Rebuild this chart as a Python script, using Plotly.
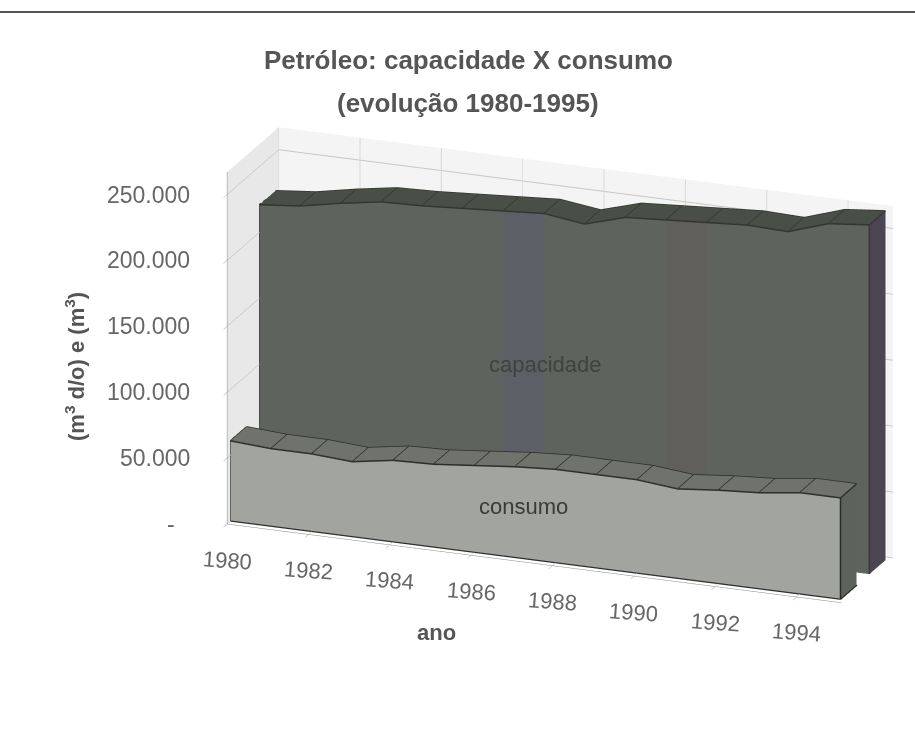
import math
import plotly.graph_objects as go

anos = list(range(1980, 1996))
capacidade = [221000, 224000, 230000, 235000, 236000, 238000, 240000, 242000,
              238000, 247000, 249000, 251000, 253000, 252000, 262000, 265000]
consumo = [61000, 59000, 59000, 57000, 62000, 63000, 66000, 69000,
           71000, 71000, 71000, 68000, 71000, 73000, 77000, 77000]
z_ticks = [0, 50000, 100000, 150000, 200000, 250000]
z_labels = ["-", "50.000", "100.000", "150.000", "200.000", "250.000"]
x_ticks = list(range(1980, 1996, 2))
x_labels = [str(a) for a in x_ticks]


def solid(xs, vals, y0, y1, c_front, c_top, c_side, bands=None):
    """Front, top and right-end faces of one 3D area series."""
    vx, vy, vz, i, j, k, fc = [], [], [], [], [], [], []

    def quad(p, col):
        n = len(vx)
        for a, b, c in p:
            vx.append(a); vy.append(b); vz.append(c)
        i.extend([n, n]); j.extend([n + 1, n + 2]); k.extend([n + 2, n + 3])
        fc.extend([col, col])

    for s in range(len(xs) - 1):
        a, b = xs[s], xs[s + 1]
        va, vb = vals[s], vals[s + 1]
        col = (bands or {}).get(a, c_front)
        quad([(a, y0, 0), (b, y0, 0), (b, y0, vb), (a, y0, va)], col)
        quad([(a, y0, va), (b, y0, vb), (b, y1, vb), (a, y1, va)], c_top)
    e, ve = xs[-1], vals[-1]
    quad([(e, y0, 0), (e, y1, 0), (e, y1, ve), (e, y0, ve)], c_side)
    return go.Mesh3d(x=vx, y=vy, z=vz, i=i, j=j, k=k, facecolor=fc, flatshading=True,
                     lighting=dict(ambient=1, diffuse=0, specular=0, fresnel=0),
                     hoverinfo="skip", showscale=False)


def edges(xs, vals, y0, y1, color, width, dividers):
    ex, ey, ez = [], [], []

    def seg(pts):
        for p in pts:
            ex.append(p[0]); ey.append(p[1]); ez.append(p[2])
        ex.append(None); ey.append(None); ez.append(None)

    seg([(a, y0, v) for a, v in zip(xs, vals)])
    seg([(a, y1, v) for a, v in zip(xs, vals)])
    seg([(xs[0], y0, vals[0]), (xs[0], y1, vals[0])])
    seg([(xs[-1], y0, vals[-1]), (xs[-1], y1, vals[-1])])
    seg([(xs[-1], y0, 0), (xs[-1], y0, vals[-1])])
    seg([(xs[0], y0, 0), (xs[0], y0, vals[0])])
    if dividers:
        for a, v in zip(xs[1:-1], vals[1:-1]):
            seg([(a, y0, v), (a, y1, v)])
    return go.Scatter3d(x=ex, y=ey, z=ez, mode="lines", line=dict(color=color, width=width),
                        hoverinfo="skip", showlegend=False)


Y_CONS = (0.0, 1.0)
Y_CAP = (1.8, 2.8)

fig = go.Figure()
fig.add_trace(solid(anos, capacidade, *Y_CAP, "#5e635d", "#494e47", "#4b4650",
                    bands={1986: "#5c6066", 1990: "#615f5c"}))
fig.add_trace(edges(anos, capacidade, *Y_CAP, "#33362f", 3, True))
fig.add_trace(solid(anos, consumo, *Y_CONS, "#a2a4a0", "#6f736c", "#5d625c"))
fig.add_trace(edges(anos, consumo, *Y_CONS, "#2b2d29", 3, True))
# dark foot of the front block
fig.add_trace(go.Scatter3d(x=[anos[0], anos[-1], anos[-1]], y=[Y_CONS[0], Y_CONS[0], Y_CONS[1]],
                           z=[600, 600, 600], mode="lines",
                           line=dict(color="#2f302d", width=5), hoverinfo="skip", showlegend=False))

# view geometry
a = math.radians(21)
e = math.radians(19.5)
D = 3.05
d = (math.cos(e) * math.sin(a), -math.cos(e) * math.cos(a), math.sin(e))
shift = 0.277
c = (-shift * math.cos(a), -shift * math.sin(a), -0.0143)
eye = tuple(ci + D * di for ci, di in zip(c, d))

FONT = "Liberation Sans, Arial, sans-serif"
x_tick_font = dict(family=FONT, size=22, color="#666666")
z_tick_font = dict(family=FONT, size=23, color="#666666")

scene_notes = [
    dict(x=1987.04, y=1.8, z=128000, text="capacidade", showarrow=False,
         font=dict(family=FONT, size=22, color="#3f423d")),
    dict(x=1987.2, y=0, z=40000, text="consumo", showarrow=False,
         font=dict(family=FONT, size=22, color="#3a3a3a")),
]
for v, lab in zip(x_ticks, x_labels):
    scene_notes.append(dict(x=v, y=-0.2, z=0, text=lab, showarrow=False, yshift=-36,
                            textangle=4, font=x_tick_font))
for v, lab in zip(z_ticks, z_labels):
    scene_notes.append(dict(x=1980, y=-0.2, z=v, text=lab, showarrow=False, xanchor="right",
                            xshift=-35 if v else -50, font=z_tick_font))

fig.update_layout(
    width=915, height=740,
    margin=dict(l=0, r=0, t=0, b=0),
    paper_bgcolor="#ffffff",
    showlegend=False,
    font=dict(family=FONT, color="#555555"),
    title=dict(text="<b>Petróleo: capacidade X consumo</b>",
               x=0.512, xanchor="center", y=1 - 60 / 740, yanchor="middle",
               font=dict(size=26, color="#555555")),
    scene=dict(
        domain=dict(x=[0, 1], y=[0, 1]),
        aspectmode="manual",
        aspectratio=dict(x=1.778, y=0.3885, z=1.009),
        camera=dict(projection=dict(type="orthographic"),
                    up=dict(x=0, y=0, z=1),
                    eye=dict(x=eye[0], y=eye[1], z=eye[2]),
                    center=dict(x=c[0], y=c[1], z=c[2])),
        xaxis=dict(title=dict(text=""), range=[1980, 1995.1], tickvals=x_ticks, showticklabels=False,
                   showgrid=True, gridcolor="#d8d8d8",
                   showbackground=True, backgroundcolor="#e8e8e8",
                   showline=True, linecolor="#888888", ticks="outside", tickcolor="#999999",
                   zeroline=False, showspikes=False),
        yaxis=dict(title=dict(text=""), range=[-0.2, 3.0], showticklabels=False, ticks="",
                   showgrid=False, showbackground=True, backgroundcolor="#f4f4f4",
                   showline=False, zeroline=False, showspikes=False),
        zaxis=dict(title=dict(text=""), range=[0, 267000], tickvals=z_ticks, showticklabels=False,
                   showgrid=True, gridcolor="#c8c8c8",
                   showbackground=False,
                   showline=True, linecolor="#888888", ticks="outside", tickcolor="#999999",
                   zeroline=False, showspikes=False),
        annotations=scene_notes,
    ),
    annotations=[
        dict(text="<b>(evolução 1980-1995)</b>", x=468 / 915, y=1 - 103 / 740, xref="paper", yref="paper",
             xanchor="center", yanchor="middle", showarrow=False, font=dict(size=26, color="#555555")),
        dict(text="<b>ano</b>", x=436 / 915, y=1 - 632 / 740, xref="paper", yref="paper", showarrow=False,
             xanchor="center", yanchor="middle", font=dict(size=22, color="#555555")),
        dict(text="<b>(m<sup>3</sup> d/o) e (m<sup>3</sup>)</b>", x=75 / 915, y=1 - 367 / 740,
             xref="paper", yref="paper", textangle=-90, showarrow=False,
             xanchor="center", yanchor="middle", font=dict(size=22, color="#555555")),
    ],
    shapes=[dict(type="line", xref="paper", yref="paper", x0=0, x1=1, y0=1 - 12 / 740, y1=1 - 12 / 740,
                 line=dict(color="#555555", width=2))],
)
fig.write_html("out.html", default_width="915px", default_height="740px",
               config=dict(displayModeBar=False),
               post_script="document.body.style.margin='0';document.body.style.overflow='hidden';")
